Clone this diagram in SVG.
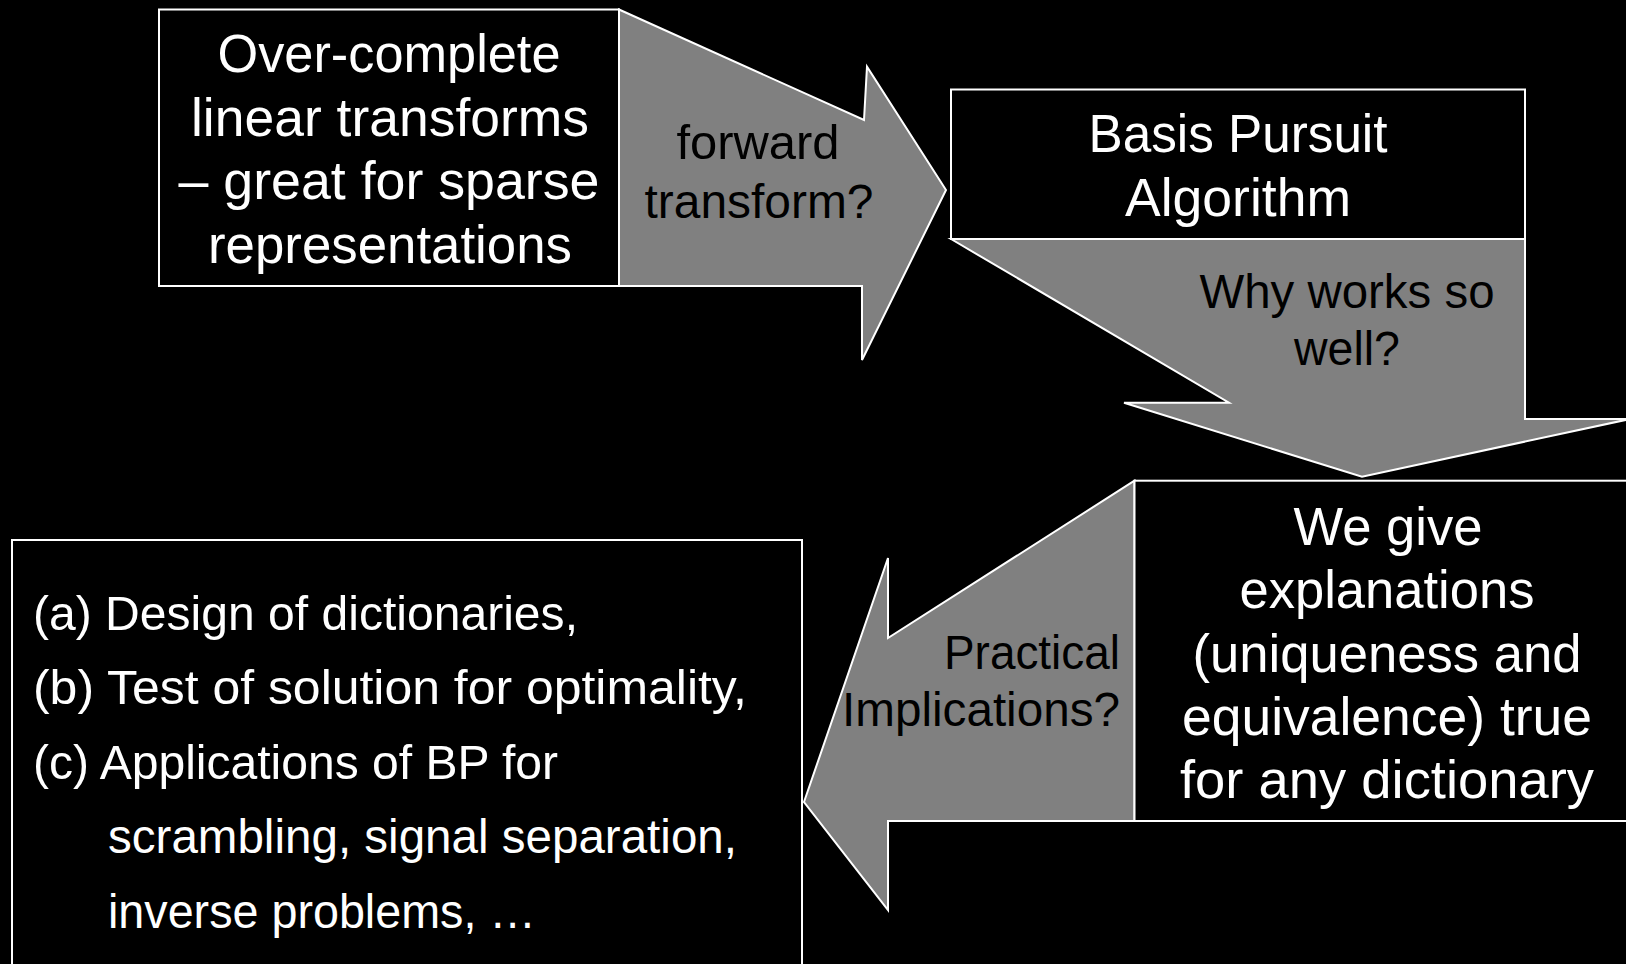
<svg xmlns="http://www.w3.org/2000/svg" width="1626" height="964" viewBox="0 0 1626 964">
<style>
.arrow{fill:#808080;stroke:#ffffff;stroke-width:2;stroke-linejoin:miter}
.box{fill:#000000;stroke:#ffffff;stroke-width:2}
.wt{fill:#ffffff;font-family:"Liberation Sans",Arial,sans-serif;font-size:54px;text-anchor:middle}
.bt{fill:#000000;font-family:"Liberation Sans",Arial,sans-serif;font-size:48px;text-anchor:middle}
.lt{fill:#ffffff;font-family:"Liberation Sans",Arial,sans-serif;font-size:48px}
</style>
<rect x="0" y="0" width="1626" height="964" fill="#000000"/>
<g id="connectors">
  <g id="arrow-forward">
    <polygon class="arrow" points="619,9.5 864,120 867,66.7 946,190 862,360 862,286 619,286"/>
    <text class="bt" x="758" y="159" textLength="163" lengthAdjust="spacingAndGlyphs">forward</text>
    <text class="bt" x="759" y="218" textLength="229" lengthAdjust="spacingAndGlyphs">transform?</text>
  </g>
  <g id="arrow-why">
    <polygon class="arrow" points="951,239 1229,402.7 1124,402.7 1362,476.7 1630,419 1525,419 1525,239"/>
    <text class="bt" x="1347" y="308" textLength="295" lengthAdjust="spacingAndGlyphs">Why works so</text>
    <text class="bt" x="1347" y="365" textLength="106" lengthAdjust="spacingAndGlyphs">well?</text>
  </g>
  <g id="arrow-practical">
    <polygon class="arrow" points="1134.5,480.7 888,638 888,558 804,802 888,910 888,821 1134.5,821"/>
    <text class="bt" x="1120" y="669" text-anchor="end" style="text-anchor:end" textLength="176" lengthAdjust="spacingAndGlyphs">Practical</text>
    <text class="bt" x="1120" y="726" style="text-anchor:end" textLength="278" lengthAdjust="spacingAndGlyphs">Implications?</text>
  </g>
</g>
<g id="node-overcomplete">
  <rect class="box" x="159" y="9.5" width="460" height="276.5"/>
  <text class="wt" x="389" y="72" textLength="343" lengthAdjust="spacingAndGlyphs">Over-complete</text>
  <text class="wt" x="390" y="136" textLength="398" lengthAdjust="spacingAndGlyphs">linear transforms</text>
  <text class="wt" x="389" y="199" textLength="421" lengthAdjust="spacingAndGlyphs">– great for sparse</text>
  <text class="wt" x="390" y="263" textLength="364" lengthAdjust="spacingAndGlyphs">representations</text>
</g>
<g id="node-bp">
  <rect class="box" x="951" y="89.5" width="574" height="149.5"/>
  <text class="wt" x="1238" y="152" textLength="299" lengthAdjust="spacingAndGlyphs">Basis Pursuit</text>
  <text class="wt" x="1238" y="216" textLength="226" lengthAdjust="spacingAndGlyphs">Algorithm</text>
</g>
<g id="node-explanations">
  <rect class="box" x="1134.5" y="480.7" width="510" height="340.3"/>
  <text class="wt" x="1388" y="545" textLength="189" lengthAdjust="spacingAndGlyphs">We give</text>
  <text class="wt" x="1387" y="608" textLength="295" lengthAdjust="spacingAndGlyphs">explanations</text>
  <text class="wt" x="1387" y="671.5" textLength="389" lengthAdjust="spacingAndGlyphs">(uniqueness and</text>
  <text class="wt" x="1387" y="735" textLength="410" lengthAdjust="spacingAndGlyphs">equivalence) true</text>
  <text class="wt" x="1387" y="798" textLength="414" lengthAdjust="spacingAndGlyphs">for any dictionary</text>
</g>
<g id="node-implications">
  <rect class="box" x="12" y="540" width="790" height="440"/>
  <text class="lt" x="33" y="629.5" textLength="545" lengthAdjust="spacingAndGlyphs">(a) Design of dictionaries,</text>
  <text class="lt" x="33" y="704" textLength="714" lengthAdjust="spacingAndGlyphs">(b) Test of solution for optimality,</text>
  <text class="lt" x="33" y="778.5" textLength="525" lengthAdjust="spacingAndGlyphs">(c) Applications of BP for</text>
  <text class="lt" x="108" y="853" textLength="629" lengthAdjust="spacingAndGlyphs">scrambling, signal separation,</text>
  <text class="lt" x="108" y="928" textLength="428" lengthAdjust="spacingAndGlyphs">inverse problems, …</text>
</g>
</svg>
